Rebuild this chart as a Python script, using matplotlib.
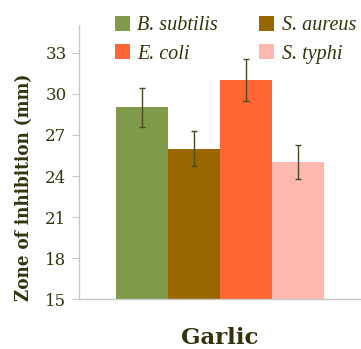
import matplotlib
matplotlib.use("Agg")
import matplotlib.pyplot as plt
import numpy as np
from matplotlib.patches import Patch

categories = ["Garlic"]
series = ["B. subtilis", "S. aureus", "E. coli", "S. typhi"]
values = [29.0, 26.0, 31.0, 25.0]
errors = [1.4, 1.3, 1.55, 1.25]
colors = ["#7F9A48", "#996600", "#FF6633", "#FFB8B0"]
yticks = [15, 18, 21, 24, 27, 30, 33]

txt = "#33330d"
fig = plt.figure(figsize=(3.61, 3.49), dpi=100)
ax = fig.add_axes([0.219, 0.142, 0.781, 0.786])

n = len(series)
w = 0.184
x0 = np.arange(len(categories))
for i, (s, v, e, c) in enumerate(zip(series, values, errors, colors)):
    xs = x0 + (i - (n - 1) / 2) * w
    ax.bar(xs, [v], width=w, color=c, label=s, zorder=2)
    ax.errorbar(xs, [v], yerr=[e], fmt="none", ecolor="#4a4a22", elinewidth=1,
                capsize=2.5, capthick=1, zorder=3)

ax.set_xlim(-0.5, 0.5)
ax.set_ylim(15, 35)
ax.set_yticks(yticks)
ax.set_xticks([])
for sp in ["top", "right"]:
    ax.spines[sp].set_visible(False)
for sp in ["left", "bottom"]:
    ax.spines[sp].set_color("#c8c8c8")
    ax.spines[sp].set_linewidth(1)
ax.tick_params(axis="y", length=5, color="#c8c8c8", labelcolor=txt, pad=4)
for t in ax.get_yticklabels():
    t.set_fontfamily("DejaVu Serif")
    t.set_fontsize(12)

ax.set_ylabel("Zone of inhibition (mm)", fontfamily="DejaVu Serif", fontstretch="condensed",
              fontweight="bold", fontsize=13.5, color=txt)
ax.yaxis.set_label_coords(-0.162, 0.41)
ax.set_xlabel(categories[0], fontfamily="DejaVu Serif", fontweight="bold",
              fontsize=16.5, color=txt, labelpad=20)

order = [0, 2, 1, 3]
handles = [Patch(facecolor=colors[k], label=series[k]) for k in order]
leg = ax.legend(handles=handles, ncol=2, loc="upper center", bbox_to_anchor=(0.555, 1.10),
                frameon=False, prop={"family": "Liberation Serif", "style": "italic", "size": 14.5},
                handlelength=0.75, handleheight=0.75, handletextpad=0.35, columnspacing=2.05,
                labelspacing=0.45)
for t in leg.get_texts():
    t.set_color(txt)

fig.savefig("out.png", dpi=100)
